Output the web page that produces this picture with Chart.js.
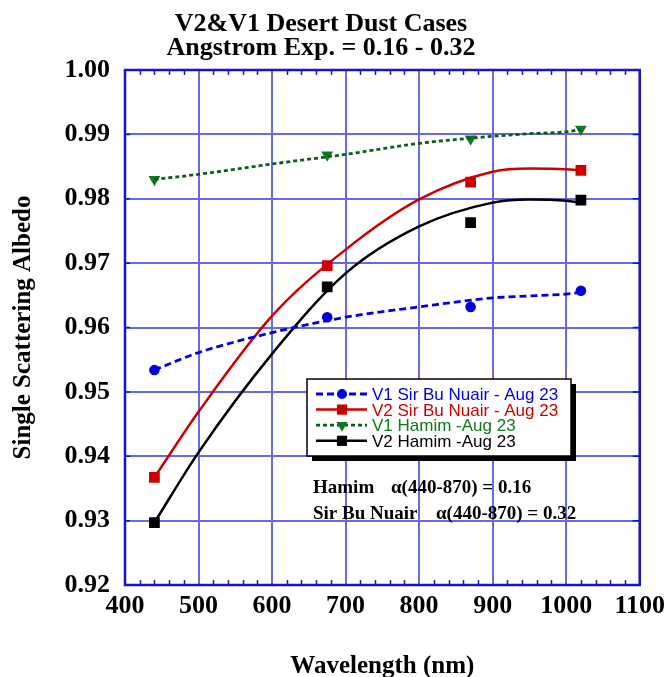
<!DOCTYPE html>
<html>
<head>
<meta charset="utf-8">
<title>V2&amp;V1 Desert Dust Cases</title>
<script src="https://cdn.jsdelivr.net/npm/chart.js"></script>
<style>
  html, body { margin: 0; padding: 0; background: #fff; }
  #wrap { width: 671px; height: 677px; }
</style>
</head>
<body>
<div id="wrap"><canvas id="ssaChart" width="671" height="677"></canvas></div>
<script>
// Measured single scattering albedo at the four AERONET wavelengths (nm)
const wavelengths = [440, 675, 870, 1020];
const v1SirBuNuair = [0.9534, 0.9616, 0.9632, 0.9657];
const v2SirBuNuair = [0.9367, 0.9696, 0.9826, 0.9844];
const v1Hamim = [0.9830, 0.9868, 0.9893, 0.9908];
const v2Hamim = [0.9297, 0.9663, 0.9763, 0.9798];

// Fitted curves through each series
const fitWavelengths = [440, 500, 600, 700, 800, 900, 950, 1000, 1020];
const v1SirBuNuairFit = [0.9534, 0.9561, 0.9592, 0.9616, 0.9632, 0.9646, 0.9649, 0.9652, 0.9655];
const v2SirBuNuairFit = [0.9367, 0.9469, 0.9618, 0.9721, 0.9799, 0.9842, 0.9847, 0.9846, 0.9844];
const v1HamimFit = [0.9830, 0.9838, 0.9854, 0.9869, 0.9886, 0.9897, 0.9901, 0.9904, 0.9908];
const v2HamimFit = [0.9297, 0.9406, 0.9559, 0.9684, 0.9757, 0.9794, 0.9799, 0.9797, 0.9794];

const seriesLabels = ['V1 Sir Bu Nuair - Aug 23', 'V2 Sir Bu Nuair - Aug 23', 'V1 Hamim -Aug 23', 'V2 Hamim -Aug 23'];

// Angstrom exponents per site
const sites = ['Hamim', 'Sir Bu Nuair'];
const angstromExp = [0.16, 0.32];

const xTicks = [400, 500, 600, 700, 800, 900, 1000, 1100];
const yTicks = [0.92, 0.93, 0.94, 0.95, 0.96, 0.97, 0.98, 0.99, 1.00];

const SERIF = '"Liberation Serif", "Times New Roman", serif';
const SANS = '"Liberation Sans", Arial, sans-serif';
const GRID = '#6a6ae0';
const FRAME = '#1414c8';

const styles = [
  { color: '#0000dd', dash: [7, 4], width: 2.8, point: 'circle', radius: 5.3, rot: 0 },
  { color: '#cc0000', dash: [], width: 2.5, point: 'rect', radius: 7.6, rot: 0 },
  { color: '#0d7a1e', lineColor: '#0b5e1a', dash: [4, 3], width: 2.8, point: 'triangle', radius: 6.8, rot: 180 },
  { color: '#000000', dash: [], width: 2.5, point: 'rect', radius: 7.6, rot: 0 }
];

const points = [v1SirBuNuair, v2SirBuNuair, v1Hamim, v2Hamim];
const fits = [v1SirBuNuairFit, v2SirBuNuairFit, v1HamimFit, v2HamimFit];

const datasets = [];
fits.forEach((fit, i) => {
  const s = styles[i];
  datasets.push({
    type: 'line',
    label: seriesLabels[i] + ' fit',
    data: fitWavelengths.map((x, k) => ({ x, y: fit[k] })),
    borderColor: s.lineColor || s.color,
    borderDash: s.dash,
    borderWidth: s.width,
    pointRadius: 0,
    cubicInterpolationMode: 'monotone',
    fill: false
  });
});
points.forEach((vals, i) => {
  const s = styles[i];
  datasets.push({
    type: 'scatter',
    label: seriesLabels[i],
    data: wavelengths.map((x, k) => ({ x, y: vals[k] })),
    showLine: false,
    pointStyle: s.point,
    pointRotation: s.rot,
    pointRadius: s.radius,
    backgroundColor: s.color,
    borderColor: s.color,
    borderWidth: 0
  });
});

// Frame, minor ticks, legend box and the Angstrom notes
const decorations = {
  id: 'decorations',
  afterDatasetsDraw(chart) {
    const { ctx, chartArea: a, scales: { x, y } } = chart;
    ctx.save();
    ctx.strokeStyle = FRAME;
    ctx.lineWidth = 1.5;
    ctx.beginPath();
    for (let v = 400; v <= 1100; v += 20) {
      if (v % 100 === 0) continue;
      const px = Math.round(x.getPixelForValue(v)) + 0.5;
      ctx.moveTo(px, a.top); ctx.lineTo(px, a.top + 5);
      ctx.moveTo(px, a.bottom); ctx.lineTo(px, a.bottom - 5);
    }
    yTicks.forEach(v => {
      const py = y.getPixelForValue(v);
      ctx.moveTo(a.right, py); ctx.lineTo(a.right - 7, py);
      ctx.moveTo(a.left, py); ctx.lineTo(a.left + 5, py);
    });
    ctx.stroke();
    ctx.lineWidth = 2.5;
    ctx.strokeRect(a.left, a.top, a.right - a.left, a.bottom - a.top);

    // legend
    const box = { left: 307, top: 379, width: 264, height: 77 };
    ctx.fillStyle = '#000';
    ctx.fillRect(box.left + 5, box.top + 5, box.width, box.height);
    ctx.fillStyle = '#fff';
    ctx.fillRect(box.left, box.top, box.width, box.height);
    ctx.strokeStyle = '#000';
    ctx.lineWidth = 1.5;
    ctx.strokeRect(box.left, box.top, box.width, box.height);
    ctx.font = '17px ' + SANS;
    ctx.textBaseline = 'alphabetic';
    seriesLabels.forEach((label, i) => {
      const s = styles[i];
      const ly = box.top + 15 + i * 15.6;
      ctx.strokeStyle = s.lineColor || s.color;
      ctx.lineWidth = s.width;
      ctx.setLineDash(s.dash);
      ctx.beginPath();
      ctx.moveTo(box.left + 9, ly);
      ctx.lineTo(box.left + 60, ly);
      ctx.stroke();
      ctx.setLineDash([]);
      ctx.fillStyle = s.color;
      Chart.helpers.drawPoint(ctx, { pointStyle: s.point, rotation: s.rot, radius: s.radius * 0.95, borderWidth: 0 }, box.left + 35, ly);
      ctx.fillStyle = s.color;
      ctx.fillText(label, box.left + 65, ly + 6);
    });

    // Angstrom exponent notes
    ctx.fillStyle = '#000';
    ctx.font = 'bold 19px ' + SERIF;
    const noteX = [[313, 391], [313, 436]];
    sites.forEach((site, i) => {
      const by = 493 + i * 26;
      ctx.fillText(site, noteX[i][0], by);
      ctx.fillText('\u03b1(440-870) = ' + angstromExp[i].toFixed(2), noteX[i][1], by);
    });
    ctx.restore();
  }
};

new Chart(document.getElementById('ssaChart'), {
  data: { datasets },
  options: {
    responsive: false,
    animation: false,
    layout: { padding: { right: 29 } },
    plugins: {
      legend: { display: false },
      tooltip: { enabled: false },
      title: {
        display: true,
        text: ['V2&V1 Desert Dust Cases', 'Angstrom Exp. = ' + angstromExp[0] + ' - ' + angstromExp[1]],
        color: '#000',
        font: { family: SERIF, size: 26, weight: 'bold', lineHeight: 0.9 },
        padding: { top: 13, bottom: 10.2 }
      }
    },
    scales: {
      x: {
        type: 'linear',
        min: 400,
        max: 1100,
        afterBuildTicks: s => { s.ticks = xTicks.map(v => ({ value: v })); },
        afterFit: s => { s.height = 92; },
        grid: { color: GRID, lineWidth: 2, drawTicks: false },
        border: { display: false },
        ticks: {
          color: '#000', padding: 6, maxRotation: 0, autoSkip: false,
          font: { family: SERIF, size: 26, weight: 'bold' },
          callback: v => String(v)
        },
        title: {
          display: true,
          text: 'Wavelength (nm)',
          color: '#000',
          font: { family: SERIF, size: 25, weight: 'bold', lineHeight: 1 },
          padding: { top: 0, bottom: -2 }
        }
      },
      y: {
        type: 'linear',
        min: 0.92,
        max: 1.00,
        afterBuildTicks: s => { s.ticks = yTicks.map(v => ({ value: v })); },
        afterFit: s => { s.width = 125; },
        grid: { color: GRID, lineWidth: 2, drawTicks: false },
        border: { display: false },
        ticks: {
          color: '#000', padding: 15, autoSkip: false,
          font: { family: SERIF, size: 26, weight: 'bold' },
          callback: v => Number(v).toFixed(2)
        },
        title: {
          display: true,
          text: 'Single Scattering Albedo',
          color: '#000',
          font: { family: SERIF, size: 25, weight: 'bold', lineHeight: 1 },
          padding: { top: 11.5, bottom: 0 }
        }
      }
    }
  },
  plugins: [decorations]
});
</script>
</body>
</html>
